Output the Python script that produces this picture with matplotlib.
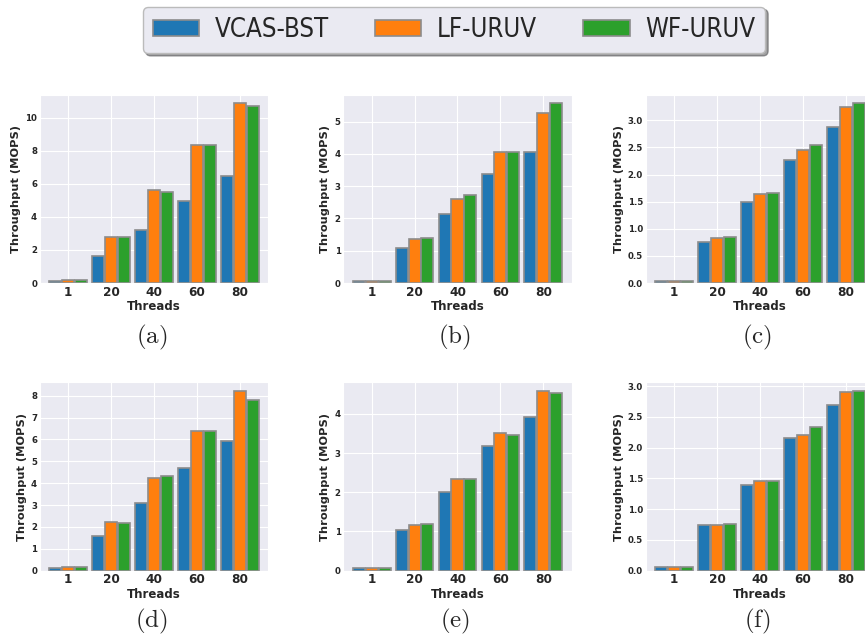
import matplotlib
matplotlib.use('Agg')
import matplotlib.pyplot as plt
from matplotlib.font_manager import FontProperties, fontManager
import seaborn as sns
import numpy as np

sns.set_style('darkgrid')
plt.rcParams['font.family'] = ['DejaVu Sans']
plt.rcParams['mathtext.fontset'] = 'cm'

threads = ['1', '20', '40', '60', '80']
series = ['VCAS-BST', 'LF-URUV', 'WF-URUV']
colors = ['#1f77b4', '#ff7f0e', '#2ca02c']

# throughput (MOPS) per panel: VCAS-BST, LF-URUV, WF-URUV
a_vals = [[0.12, 1.66, 3.24, 4.98, 6.46],
          [0.16, 2.77, 5.65, 8.38, 10.91],
          [0.16, 2.81, 5.49, 8.38, 10.73]]
b_vals = [[0.07, 1.07, 2.15, 3.38, 4.07],
          [0.07, 1.37, 2.60, 4.05, 5.26],
          [0.07, 1.40, 2.72, 4.05, 5.57]]
c_vals = [[0.045, 0.76, 1.49, 2.27, 2.87],
          [0.045, 0.83, 1.64, 2.45, 3.24],
          [0.045, 0.84, 1.65, 2.54, 3.32]]
d_vals = [[0.11, 1.59, 3.08, 4.71, 5.94],
          [0.15, 2.21, 4.24, 6.40, 8.23],
          [0.15, 2.18, 4.33, 6.37, 7.82]]
e_vals = [[0.076, 1.04, 2.00, 3.18, 3.92],
          [0.076, 1.17, 2.33, 3.50, 4.59],
          [0.076, 1.20, 2.34, 3.46, 4.52]]
f_vals = [[0.054, 0.74, 1.39, 2.15, 2.70],
          [0.054, 0.75, 1.45, 2.20, 2.90],
          [0.054, 0.76, 1.45, 2.34, 2.92]]

panels = [
    ('(a)', a_vals, np.arange(0, 11, 2), 11.4, '%d'),
    ('(b)', b_vals, np.arange(0, 6, 1), 5.83, '%d'),
    ('(c)', c_vals, np.arange(0, 3.01, 0.5), 3.47, '%.1f'),
    ('(d)', d_vals, np.arange(0, 9, 1), 8.61, '%d'),
    ('(e)', e_vals, np.arange(0, 5, 1), 4.80, '%d'),
    ('(f)', f_vals, np.arange(0, 3.01, 0.5), 3.06, '%.1f'),
]

fig = plt.figure(figsize=(8.65, 6.35), dpi=100)

lefts = [0.0462, 0.3969, 0.7465]
bottoms = [0.5543, 0.1013]
w, h = 0.264, 0.2965
x = np.arange(len(threads))

for i, (cap, vals, yt, ytop, fmt) in enumerate(panels):
    left = lefts[i % 3]
    bottom = bottoms[i // 3]
    ax = fig.add_axes([left, bottom, w, h])
    for k in range(3):
        ax.bar(x + (k - 1) * 0.3, vals[k], width=0.28, color=colors[k],
               edgecolor='#8c8c8c', linewidth=1.2, label=series[k])
    ax.set_xlim(-0.66, 4.66)
    ax.set_ylim(0, ytop)
    ax.set_xticks(x)
    ax.set_xticklabels(threads, fontsize=8.7, fontweight='bold')
    ax.set_yticks(yt)
    ax.set_yticklabels([fmt % v for v in yt], fontsize=6.2, fontweight='bold')
    ax.tick_params(axis='both', pad=2, length=0)
    ax.set_xlabel('Threads', fontsize=8.5, fontweight='bold', labelpad=1)
    ax.set_ylabel('Throughput (MOPS)', fontsize=8.2, fontweight='bold', labelpad=3)
    cy = 0.469 if i < 3 else 0.021
    fig.text(left + w / 2 - 0.003, cy, r'$\mathrm{' + cap + '}$', fontsize=18,
             ha='center', va='center')
    if i == 0:
        handles, labels = ax.get_legend_handles_labels()

# narrow face for the legend if the system has one
names = {f.name for f in fontManager.ttflist}
narrow = [n for n in ['Liberation Sans Narrow', 'DejaVu Sans Condensed'] if n in names]
if narrow:
    lprop = FontProperties(family=narrow[0], size=18.5)
else:
    lprop = FontProperties(family='DejaVu Sans', stretch='condensed', size=18.5)

leg = fig.legend(handles, labels, loc='center', bbox_to_anchor=(0.525, 0.953),
                 ncol=3, shadow=True, fancybox=True,
                 facecolor='#eaeaf2', edgecolor='#bbbbbb', framealpha=1,
                 handlelength=1.8, handleheight=0.6, handletextpad=0.6,
                 columnspacing=1.8, borderpad=0.4, prop=lprop)

fig.savefig('out.png', dpi=100)
